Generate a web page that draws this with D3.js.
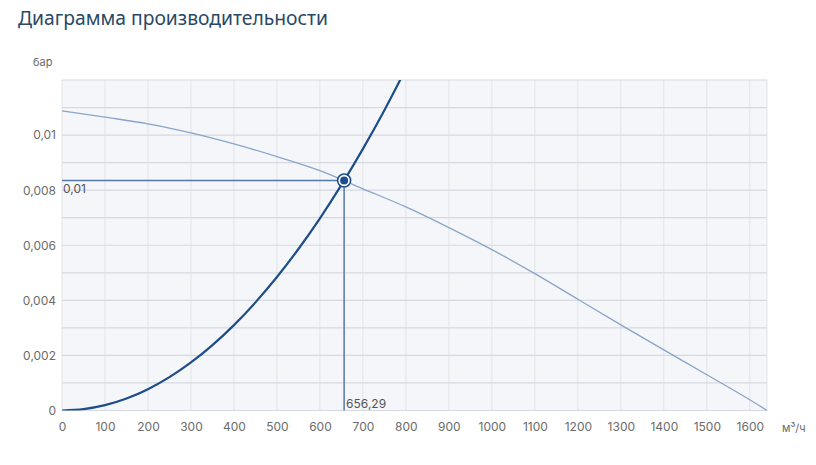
<!DOCTYPE html>
<html>
<head>
<meta charset="utf-8">
<script src="https://cdn.jsdelivr.net/npm/d3@7"></script>
<style>
  body { margin: 0; background: #fff; font-family: "Noto Sans", "Open Sans", sans-serif; }
</style>
</head>
<body>
<div id="chartArea"></div>
<script>
// colours
const dkBlue = "#1d4e89";
const ltBlue = "#89a5c9";
const refBlue = "#5479a8";
const txtGrey = "#6b6b6b";

// data
const flowTicks = [0,100,200,300,400,500,600,700,800,900,1000,1100,1200,1300,1400,1500,1600];
const pressTicks = [0, 0.002, 0.004, 0.006, 0.008, 0.01];
const pressTickLabels = ["0", "0,002", "0,004", "0,006", "0,008", "0,01"];

// fan curve (m3/h, bar)
const fanFlow =  [0, 100, 200, 300, 400, 500, 600, 700, 800, 900, 1000, 1100, 1200, 1300, 1400, 1500, 1600, 1640];
const fanPress = [0.01088, 0.01065, 0.01041, 0.01008, 0.00968, 0.00922, 0.00871, 0.00805, 0.00739, 0.00664, 0.00584, 0.00497, 0.00404, 0.00311, 0.00220, 0.00130, 0.00039, 0];

// system curve
const sysFlow =  [0, 50, 100, 150, 200, 250, 300, 350, 400, 450, 500, 550, 600, 650, 700, 750, 800];
const sysPress = [0, 0.00005, 0.000194, 0.000436, 0.000775, 0.00121, 0.001745, 0.002375, 0.0031, 0.003926, 0.004847, 0.005864, 0.006979, 0.008191, 0.0095, 0.010905, 0.012407];

// working point
const workFlow = 656.29;
const workPress = 0.00835;
const workFlowLabel = "656,29";
const workPressLabel = "0,01";

const W = 816, H = 465;
const pLeft = 62, pRight = 767, pTop = 80, pBottom = 410.5;

const svg = d3.select("#chartArea").append("svg")
  .attr("width", W)
  .attr("height", H);

const x = d3.scaleLinear().domain([0, 1640]).range([pLeft, pRight]);
const y = d3.scaleLinear().domain([0, 0.012]).range([pBottom, pTop]);

svg.append("text")
  .attr("x", 18).attr("y", 25)
  .attr("font-size", "19.3px")
  .attr("fill", "#2a4866")
  .text("Диаграмма производительности");

// plot background
svg.append("rect")
  .attr("x", pLeft).attr("y", pTop)
  .attr("width", pRight - pLeft).attr("height", pBottom - pTop)
  .attr("fill", "#f4f6f9");

// grid
svg.append("g")
  .selectAll("line")
  .data(flowTicks.concat([1640]))
  .enter().append("line")
  .attr("x1", d => x(d)).attr("x2", d => x(d))
  .attr("y1", pTop).attr("y2", pBottom)
  .attr("stroke", "#e3e4e6").attr("stroke-width", 1);

svg.append("g")
  .selectAll("line")
  .data(d3.range(0, 13).map(i => i * 0.001))
  .enter().append("line")
  .attr("x1", pLeft).attr("x2", pRight)
  .attr("y1", d => y(d)).attr("y2", d => y(d))
  .attr("stroke", "#d6dae0").attr("stroke-width", 1.2);

// axes
const xAxis = svg.append("g")
  .attr("transform", `translate(0,${pBottom})`)
  .call(d3.axisBottom(x).tickValues(flowTicks).tickSize(0).tickPadding(12).tickFormat(d => d));
xAxis.select(".domain").remove();
xAxis.selectAll("text").attr("font-size", "12px").attr("fill", txtGrey)
  .attr("font-family", "Inter, 'Noto Sans', sans-serif");

const yAxis = svg.append("g")
  .attr("transform", `translate(${pLeft},0)`)
  .call(d3.axisLeft(y).tickValues(pressTicks).tickSize(0).tickPadding(6)
    .tickFormat((d, i) => pressTickLabels[i]));
yAxis.select(".domain").remove();
yAxis.selectAll("text").attr("font-size", "12px").attr("fill", txtGrey)
  .attr("font-family", "Inter, 'Noto Sans', sans-serif");

svg.append("text")
  .attr("x", 33).attr("y", 66)
  .attr("font-size", "11px").attr("fill", txtGrey)
  .attr("font-family", "Inter, 'Noto Sans', sans-serif")
  .text("бар");

svg.append("text")
  .attr("x", 782).attr("y", 432)
  .attr("font-size", "11px").attr("fill", txtGrey)
  .attr("font-family", "Inter, 'Noto Sans', sans-serif")
  .text("м³/ч");

// clip
svg.append("clipPath").attr("id", "plotClip")
  .append("rect")
  .attr("x", pLeft).attr("y", pTop)
  .attr("width", pRight - pLeft).attr("height", pBottom - pTop);

const line = d3.line().x(d => x(d[0])).y(d => y(d[1])).curve(d3.curveMonotoneX);

// fan curve
svg.append("path")
  .datum(d3.zip(fanFlow, fanPress))
  .attr("d", line)
  .attr("fill", "none")
  .attr("stroke", ltBlue)
  .attr("stroke-width", 1.3);

// reference lines
svg.append("line")
  .attr("x1", x(0)).attr("x2", x(workFlow))
  .attr("y1", y(workPress)).attr("y2", y(workPress))
  .attr("stroke", refBlue).attr("stroke-width", 1.5);
svg.append("line")
  .attr("x1", x(workFlow)).attr("x2", x(workFlow))
  .attr("y1", y(workPress)).attr("y2", y(0))
  .attr("stroke", refBlue).attr("stroke-width", 1.5);

// system curve
svg.append("path")
  .datum(d3.zip(sysFlow, sysPress))
  .attr("d", line)
  .attr("clip-path", "url(#plotClip)")
  .attr("fill", "none")
  .attr("stroke", dkBlue)
  .attr("stroke-width", 2.2);

// working point marker
svg.append("circle")
  .attr("cx", x(workFlow)).attr("cy", y(workPress))
  .attr("r", 6.5)
  .attr("fill", "#ffffff")
  .attr("stroke", dkBlue).attr("stroke-width", 1.6);
svg.append("circle")
  .attr("cx", x(workFlow)).attr("cy", y(workPress))
  .attr("r", 4)
  .attr("fill", dkBlue);

svg.append("text")
  .attr("x", x(0) + 1).attr("y", y(workPress) + 12)
  .attr("font-size", "12px").attr("fill", "#555")
  .attr("font-family", "Inter, 'Noto Sans', sans-serif")
  .text(workPressLabel);

svg.append("text")
  .attr("x", x(workFlow) + 2).attr("y", y(0) - 3)
  .attr("font-size", "12px").attr("fill", "#555")
  .attr("font-family", "Inter, 'Noto Sans', sans-serif")
  .text(workFlowLabel);
</script>
</body>
</html>
